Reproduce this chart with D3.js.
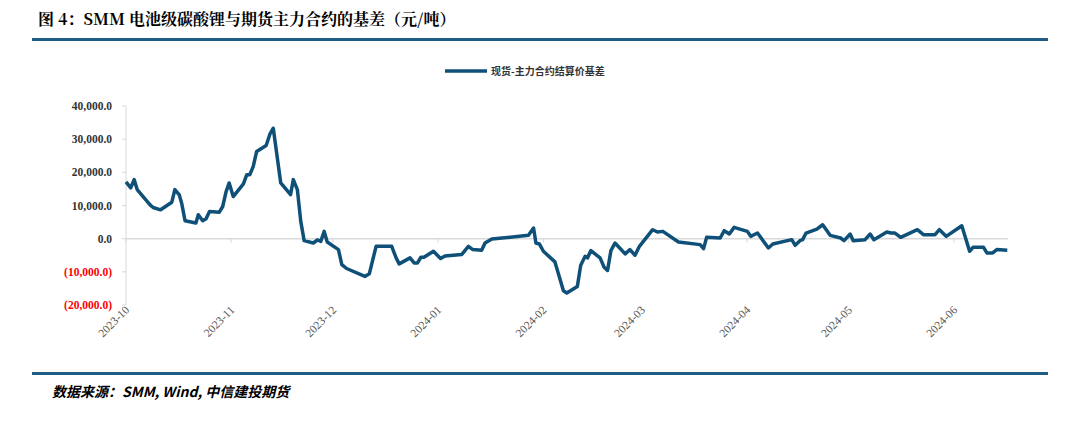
<!DOCTYPE html><html><head><meta charset="utf-8"><script src="https://cdn.jsdelivr.net/npm/d3@7"></script>
<style>body{margin:0;background:#fff}</style></head><body><svg id="c" width="1070" height="423"></svg>
<script>
// days since 2023-10-01
const days=[0,1.4,2.4,3.3,7.1,8,10.2,13.5,14.4,15.7,16.4,17.4,20.6,21.3,22.6,23.6,24.6,27.5,28.5,29.5,30.4,31.6,34.6,35.6,36.5,37.5,38.5,41.3,42.4,43.4,45.6,48.5,49.3,50.5,51.5,52.5,55.2,56.4,57.4,58.4,59.3,62.6,63.6,65,70.4,71.7,73.7,78.3,79.6,80.5,83.7,84.9,85.9,86.9,87.8,90.6,92.7,94,98.9,100.9,102.2,104.8,105.8,107.8,118.6,120.1,120.8,121.8,123,126.4,128.9,129.9,133,134,135.3,136,137,139.7,140.9,141.9,142.9,144.1,147.1,148.5,150,151.3,155.2,156.6,158.2,162.8,169.2,170.2,171.1,175.1,176.3,177.8,179.2,183.1,184.1,186.1,189.3,190.6,196.2,197.2,198.6,199.4,200.4,203.6,205.3,207.5,210.6,211.6,213.4,214.3,217.8,219.3,220.4,224.2,225.4,226.6,228.3,233.2,235,238.4,239.7,241.7,246.3,248.6,249.6,252.7,253.7,255.4,256.6,259.7];
const basis=[17100,15300,17800,14800,10200,9400,8700,11000,14800,13200,10700,5400,4700,7200,5400,6000,8200,8000,9700,14200,16800,12700,16500,19300,19300,21800,26300,28100,31500,33300,16800,13300,17800,14800,5200,-600,-1300,-400,-800,2200,-1000,-3300,-7800,-9000,-11400,-10600,-2300,-2300,-5800,-7600,-5800,-7300,-7300,-5600,-5600,-3800,-6000,-5200,-4800,-2300,-3300,-3500,-1300,-100,1000,3200,-1300,-1600,-3800,-7000,-15700,-16400,-14400,-8000,-5300,-5800,-3600,-5800,-8600,-9600,-3600,-1300,-4600,-3300,-5000,-2300,2700,2000,2200,-1000,-1800,-3000,400,200,2400,1400,3400,2200,700,1700,-2800,-1600,-300,-2000,-600,-300,1700,2900,4200,1000,200,-600,1400,-600,-300,1400,-300,2000,1700,1700,400,2700,1200,1200,2700,700,3900,-3800,-2600,-2600,-4300,-4300,-3300,-3500];
const monthDays=[0,31,61,92,123,152,183,213,244];
const monthLabels=["2023-10","2023-11","2023-12","2024-01","2024-02","2024-03","2024-04","2024-05","2024-06"];
const yTicks=[40000,30000,20000,10000,0,-10000,-20000];
const svg=d3.select("#c");
const blue="#0f5079";
svg.append("text").attr("x",38).attr("y",25).attr("font-family","'Noto Serif CJK SC','Noto Sans CJK SC',serif").attr("font-weight","bold").attr("font-size",16).text("图 4：SMM 电池级碳酸锂与期货主力合约的基差（元/吨）");
svg.append("rect").attr("x",32).attr("y",38).attr("width",1016).attr("height",3).attr("fill","#1f5c86");
svg.append("rect").attr("x",32).attr("y",372).attr("width",1016).attr("height",3).attr("fill","#1f5c86");
svg.append("text").attr("x",52).attr("y",397).attr("font-family","'Noto Sans CJK SC',sans-serif").attr("font-weight","bold").attr("font-style","italic").attr("font-size",14).text("数据来源：SMM, Wind, 中信建投期货");
svg.append("line").attr("x1",445).attr("x2",487).attr("y1",71).attr("y2",71).attr("stroke",blue).attr("stroke-width",3.5);
svg.append("text").attr("x",491).attr("y",75).attr("font-family","'Noto Sans CJK SC',sans-serif").attr("font-weight","bold").attr("font-size",10).attr("fill","#333").text("现货-主力合约结算价基差");
const x=d3.scaleLinear().domain([0,244]).range([126,954]);
const y=d3.scaleLinear().domain([-20000,40000]).range([305,106]);
svg.append("line").attr("x1",126).attr("x2",126).attr("y1",106).attr("y2",305).attr("stroke","#d9d9d9");
yTicks.forEach(t=>svg.append("line").attr("x1",122).attr("x2",126).attr("y1",y(t)).attr("y2",y(t)).attr("stroke","#d9d9d9"));
svg.append("line").attr("x1",126).attr("x2",1008).attr("y1",y(0)).attr("y2",y(0)).attr("stroke","#d9d9d9").attr("stroke-width",1.5);
monthDays.forEach(d=>svg.append("line").attr("x1",x(d)).attr("x2",x(d)).attr("y1",y(0)).attr("y2",y(0)+4).attr("stroke","#d9d9d9"));
const fmt=d3.format(",.1f");
svg.selectAll(".yl").data(yTicks).enter().append("text").attr("x",112).attr("y",d=>y(d)+4).attr("text-anchor","end")
 .attr("font-family","'Liberation Serif',serif").attr("font-weight","bold").attr("font-size",11.5)
 .attr("fill",d=>d<0?"#ff0000":"#333").text(d=>d<0?"("+fmt(-d)+")":fmt(d));
svg.selectAll(".xl").data(monthDays).enter().append("text").attr("text-anchor","end")
 .attr("transform",d=>`translate(${x(d)+4},${y(0)+72}) rotate(-45)`)
 .attr("font-family","'Liberation Serif',serif").attr("font-size",11.5).attr("fill","#555").text((d,i)=>monthLabels[i]);
svg.append("path").datum(days.map((d,i)=>[d,basis[i]])).attr("fill","none").attr("stroke",blue).attr("stroke-width",3.5).attr("stroke-linejoin","round")
 .attr("d",d3.line().x(d=>x(d[0])).y(d=>y(d[1])));
</script></body></html>
